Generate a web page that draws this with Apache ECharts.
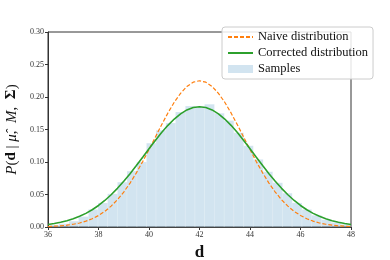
<!DOCTYPE html>
<html>
<head>
<meta charset="utf-8">
<script src="https://cdn.jsdelivr.net/npm/echarts@6/dist/echarts.min.js"></script>
<style>html,body{margin:0;padding:0;background:#fff}#c{width:390px;height:260px}</style>
</head>
<body>
<div id="c"></div>
<script>
// Curve sample positions (d)
var xs = [36,36.25,36.5,36.75,37,37.25,37.5,37.75,38,38.25,38.5,38.75,39,39.25,39.5,39.75,40,40.25,40.5,40.75,41,41.25,41.5,41.75,42,42.25,42.5,42.75,43,43.25,43.5,43.75,44,44.25,44.5,44.75,45,45.25,45.5,45.75,46,46.25,46.5,46.75,47,47.25,47.5,47.75,48];
// Naive distribution values
var naive = [0.0007,0.0012,0.0018,0.0028,0.0042,0.0062,0.0090,0.0127,0.0177,0.0240,0.0321,0.0419,0.0538,0.0676,0.0833,0.1006,0.1191,0.1382,0.1573,0.1755,0.1919,0.2057,0.2162,0.2228,0.2250,0.2228,0.2162,0.2057,0.1919,0.1755,0.1573,0.1382,0.1191,0.1006,0.0833,0.0676,0.0538,0.0419,0.0321,0.0240,0.0177,0.0127,0.0090,0.0062,0.0042,0.0028,0.0018,0.0012,0.0007];
// Corrected distribution values
var corrected = [0.0039,0.0053,0.0072,0.0096,0.0126,0.0164,0.0210,0.0265,0.0331,0.0408,0.0496,0.0595,0.0703,0.0821,0.0945,0.1074,0.1204,0.1331,0.1453,0.1564,0.1661,0.1741,0.1801,0.1838,0.1850,0.1838,0.1801,0.1741,0.1661,0.1564,0.1453,0.1331,0.1204,0.1074,0.0945,0.0821,0.0703,0.0595,0.0496,0.0408,0.0331,0.0265,0.0210,0.0164,0.0126,0.0096,0.0072,0.0053,0.0039];
// Histogram bin left edges and heights
var binEdges = [36.06,36.44,36.83,37.21,37.60,37.98,38.36,38.75,39.13,39.52,39.90,40.28,40.67,41.05,41.44,41.82,42.20,42.59,42.98,43.36,43.75,44.13,44.52,44.90,45.29,45.67,46.06,46.44,46.83,47.21,47.60,47.98];
var binHeights = [0.003,0.005,0.009,0.016,0.027,0.037,0.051,0.069,0.086,0.100,0.129,0.149,0.160,0.177,0.186,0.185,0.189,0.175,0.164,0.145,0.125,0.104,0.085,0.068,0.052,0.037,0.027,0.018,0.011,0.007,0.004];
var xTicks = [36,38,40,42,44,46,48];
var yTicks = [0,0.05,0.10,0.15,0.20,0.25,0.30];

var histData = binHeights.map(function(h,i){ return [binEdges[i], binEdges[i+1], h]; });
var naiveData = xs.map(function(x,i){ return [x, naive[i]]; });
var corrData = xs.map(function(x,i){ return [x, corrected[i]]; });

var serif = '"Liberation Serif", "DejaVu Serif", serif';
var chart = echarts.init(document.getElementById('c'), null, {renderer:'canvas'});
chart.setOption({
  animation:false,
  backgroundColor:'#fff',
  grid:{left:48, right:39, top:32, bottom:33, outerBoundsMode:'none', containLabel:false,
    show:true, borderColor:'#333', borderWidth:1, backgroundColor:'transparent'},
  legend:{
    orient:'vertical', left:222, top:27, itemWidth:25, itemHeight:8, itemGap:2,
    padding:[3,5,3,5], backgroundColor:'rgba(255,255,255,0.85)', borderColor:'#ccc', borderWidth:1, borderRadius:3,
    textStyle:{fontFamily:serif, fontSize:12.5, color:'#111', lineHeight:14},
    data:[
      {name:'Naive distribution', itemStyle:{opacity:0}},
      {name:'Corrected distribution', itemStyle:{opacity:0}},
      {name:'Samples', icon:'rect'}
    ]
  },
  xAxis:{
    type:'value', min:xTicks[0], max:xTicks[xTicks.length-1], interval:2,
    name:'d', nameLocation:'middle', nameGap:15,
    nameTextStyle:{fontFamily:serif, fontSize:17, fontWeight:'bold', color:'#111'},
    axisLine:{show:true, lineStyle:{color:'#333'}},
    axisTick:{show:true, inside:false, length:3, lineStyle:{color:'#333'}},
    axisLabel:{fontFamily:serif, fontSize:8, color:'#333', margin:4},
    splitLine:{show:false}
  },
  yAxis:{
    type:'value', min:yTicks[0], max:yTicks[yTicks.length-1], interval:0.05,
    name:'{i|P}({b|d} | {i|μ̂},  {i|M},  {b|Σ})', nameLocation:'middle', nameGap:27, nameRotate:90,
    nameTextStyle:{fontFamily:serif, fontSize:15, color:'#111',
      rich:{i:{fontFamily:serif, fontStyle:'italic', fontSize:15, color:'#111'}, b:{fontFamily:serif, fontWeight:'bold', fontSize:15, color:'#111'}}},
    axisLine:{show:true, lineStyle:{color:'#333'}},
    axisTick:{show:true, inside:false, length:3, lineStyle:{color:'#333'}},
    axisLabel:{fontFamily:serif, fontSize:8, color:'#333', margin:4, formatter:function(v){return v.toFixed(2);}},
    splitLine:{show:false}
  },
  series:[
    {
      name:'Samples', type:'custom', data:histData, z:1,
      itemStyle:{color:'rgba(31,119,180,0.2)'},
      renderItem:function(params, api){
        var p0 = api.coord([api.value(0), api.value(2)]);
        var p1 = api.coord([api.value(1), 0]);
        var rect = echarts.graphic.clipRectByRect({x:p0[0], y:p0[1], width:p1[0]-p0[0], height:p1[1]-p0[1]},
          {x:params.coordSys.x, y:params.coordSys.y, width:params.coordSys.width, height:params.coordSys.height});
        return rect && {type:'rect', shape:rect, style:{fill:'rgba(31,119,180,0.2)', stroke:'rgba(255,255,255,0.35)', lineWidth:0.5}};
      },
      encode:{x:[0,1], y:2}
    },
    {
      name:'Naive distribution', type:'line', data:naiveData, symbol:'none', z:3,
      itemStyle:{color:'#ff7f0e'},
      lineStyle:{color:'#ff7f0e', width:1.2, type:[4,2]}
    },
    {
      name:'Corrected distribution', type:'line', data:corrData, symbol:'none', z:4,
      itemStyle:{color:'#2ca02c'},
      lineStyle:{color:'#2ca02c', width:1.6}
    }
  ]
});
</script>
</body>
</html>
